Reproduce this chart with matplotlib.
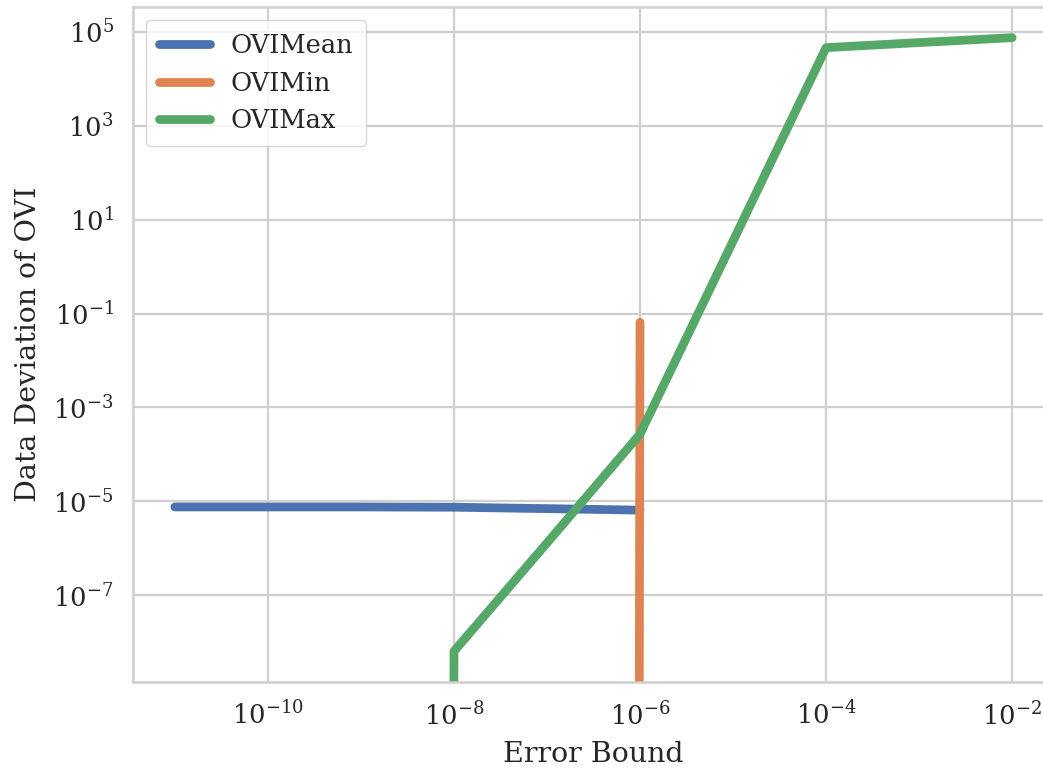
import matplotlib
matplotlib.use('Agg')
import matplotlib.pyplot as plt
import numpy as np
import seaborn as sns

# error bounds tested, one per decade
error_bound = [1e-11, 1e-10, 1e-9, 1e-8, 1e-7, 1e-6, 1e-5, 1e-4, 1e-3, 1e-2]

# deviation statistics per error bound (nan = not measured)
ovi_mean = [7.6e-6, 7.6e-6, 7.6e-6, 7.5e-6, 7.0e-6, 6.5e-6, np.nan, np.nan, np.nan, np.nan]
ovi_min = [0, 0, 0, 0, 0, 0.065, np.nan, np.nan, np.nan, np.nan]
ovi_max = [0, 0, 0, 6.4e-9, 1.3e-6, 2.7e-4, 3.5, 4.6e4, 5.9e4, 7.5e4]

sns.set_theme(style='whitegrid', font='serif',
              rc={'grid.linewidth': 1.6, 'axes.linewidth': 1.8, 'grid.color': '#cfcfcf',
                  'axes.edgecolor': '#cfcfcf'})
plt.rcParams['font.family'] = ['DejaVu Serif']

fig = plt.figure(figsize=(10.43, 7.69), dpi=100)
ax = fig.add_axes([133 / 1043, 87 / 769, 921 / 1043, 675 / 769])

ax.plot(error_bound, ovi_mean, linewidth=6.3, label='OVIMean')
ax.plot(error_bound, ovi_min, linewidth=6.3, label='OVIMin')
ax.plot(error_bound, ovi_max, linewidth=6.3, label='OVIMax')

ax.set_xscale('log')
ax.set_yscale('log')
ax.set_xticks([1e-10, 1e-8, 1e-6, 1e-4, 1e-2])
ax.set_yticks([1e-7, 1e-5, 1e-3, 1e-1, 1e1, 1e3, 1e5])
ax.minorticks_off()
ax.tick_params(labelsize=18.5, pad=8)
ax.set_xlabel('Error Bound', fontsize=20.5, labelpad=8)
ax.set_ylabel('Data Deviation of OVI', fontsize=20.5, labelpad=8)
ax.legend(loc='upper left', fontsize=18.5, borderpad=0.5)

plt.savefig('out.png', dpi=100)
